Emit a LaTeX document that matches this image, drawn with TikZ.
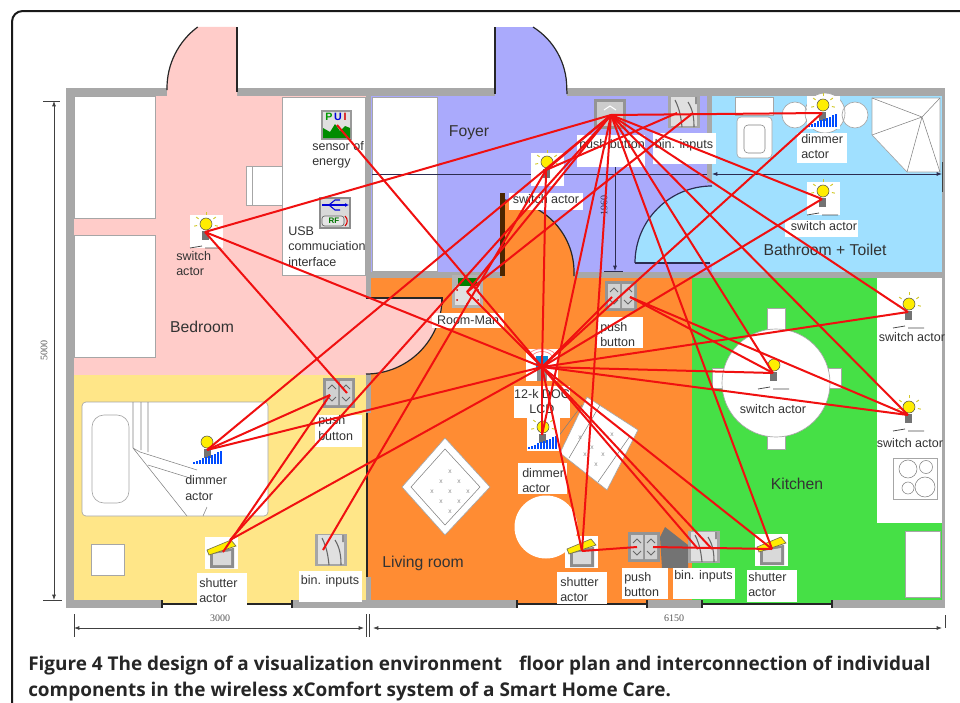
\documentclass[tikz,border=0pt]{standalone}
\usepackage{fontspec}
\setmainfont{Liberation Sans}
\newfontfamily\capfont{Open Sans}
\newfontfamily\dimfont{Liberation Serif}
\usetikzlibrary{arrows.meta,calc}

\definecolor{roompink}{HTML}{FFCCC9}
\definecolor{roomyellow}{HTML}{FFE688}
\definecolor{roomlilac}{HTML}{AAAAFC}
\definecolor{roomsky}{HTML}{A0E0FF}
\definecolor{roomorange}{HTML}{FF8C33}
\definecolor{roomgreen}{HTML}{46E046}
\definecolor{wallgray}{HTML}{A8A8A8}
\definecolor{inkgray}{HTML}{333333}
\definecolor{wirered}{HTML}{F01010}
\definecolor{dimblue}{HTML}{2C2C50}

\tikzset{
    wall/.style={fill=wallgray},
    furn/.style={fill=white, draw=black!35, line width=0.5pt},
    thin line/.style={draw=black!50, line width=0.4pt},
    doorleaf/.style={draw=black!85, line width=0.9pt},
    dimline/.style={draw=black!75, line width=0.6pt},
    dimarrow/.style={dimline, {Latex[length=4pt,width=3pt]}-{Latex[length=4pt,width=3pt]}},
    wire/.style={draw=wirered, line width=1.5pt},
    ptext/.style={inner sep=0pt, text=inkgray, font=\fontsize{9.4}{11.4}\selectfont, align=left},
    room/.style={inner sep=0pt, text=inkgray, font=\fontsize{11.8}{14}\selectfont},
    dimtext/.style={inner sep=0pt, text=black!65, font=\dimfont\fontsize{7.5}{9}\selectfont},
    captext/.style={inner sep=0pt, anchor=base west, text=black!85, font=\capfont\bfseries\fontsize{14.2}{19}\selectfont},
    iconbox/.style={fill=white},
    bulb/.pic={
        \fill[iconbox] (-15,-17) rectangle (18,16);
        \foreach \a in {170,215,270,325,10} \draw[yellow!80!black, line width=0.7pt]
            ($(1,-8)+(\a:9)$) -- ($(1,-8)+(\a:12)$);
        \fill[black!55] (-3,-1) rectangle (4,8);
        \draw[fill=yellow!95!orange, draw=black!70, line width=0.4pt] (1,-8) circle[radius=6];
    },
    switchbase/.pic={
        \draw[black!70, line width=0.6pt] (-15,16) -- (-3,14) (0,16) -- (16,16);
    },
    bars/.pic={
        \foreach \i in {0,...,9}
            \fill[blue!70!cyan] (-14+3*\i,14) rectangle ++(2,-2-1.2*\i);
    },
    shutter/.pic={
        \fill[iconbox] (-17,-15) rectangle (16,17);
        \fill[black!45] (-12,-1) -- (12,-4) -- (12,16) -- (-12,16) -- cycle;
        \fill[black!15] (-9,2) -- (9,-1) -- (9,13) -- (-9,13) -- cycle;
        \draw[fill=yellow!95!orange, draw=black!60!yellow, line width=0.5pt]
            (-15,-2) -- (9,-12) -- (14,-6) -- (-13,3) -- cycle;
    },
    btnone/.pic={
        \fill[black!42] (-16,-15) rectangle (16,15);
        \fill[black!20] (-13,-12) rectangle (13,12);
        \draw[white, line width=0.8pt] (-6,-4) -- (0,-8) -- (6,-4);
    },
    btntwo/.pic={
        \fill[black!42] (-16,-15) rectangle (16,15);
        \fill[black!18] (-13,-12) rectangle (-1,12) (1,-12) rectangle (13,12);
        \foreach \x in {-7,7} \draw[black!60, line width=0.6pt]
            (\x-4,-4) -- (\x,-8) -- (\x+4,-4) (\x-4,4) -- (\x,8) -- (\x+4,4);
    },
    bininput/.pic={
        \fill[black!35] (-16,-16) rectangle (16,16);
        \fill[black!12] (-13,-15) rectangle (13,14);
        \draw[black!60, line width=0.8pt] (-9,-12) .. controls (-4,-2) and (-3,6) .. (-2,15)
            (4,-10) .. controls (9,-2) and (10,6) .. (10,15) (12,-15) -- (12,-8);
    },
}

\begin{document}
\begin{tikzpicture}[x=0.75pt, y=-0.75pt]
    \useasboundingbox (0,0) rectangle (960,703);
    \clip (0,0) rectangle (960,703);

    % card
    \fill[white] (0,0) rectangle (960,703);
    \draw[black!90, line width=1.5pt, rounded corners=8pt] (12,740) -- (12,11) -- (1000,11);

    % walls and rooms
    \fill[wall] (66,88) rectangle (945,608);
    \fill[roompink] (74,96) rectangle (366,375);
    \fill[roomyellow] (74,375) rectangle (366,600);
    \fill[wall] (366,96) rectangle (371,608);
    \fill[roomlilac] (371,96) rectangle (712,272);
    \fill[wall] (707,96) rectangle (712,183);
    \fill[roomsky] (712,96) rectangle (942,272);
    \fill[wall] (366,272) rectangle (942,278);
    \fill[roomorange] (371,278) rectangle (692,600);
    \fill[roomgreen] (692,278) rectangle (942,600);
    \fill[white] (877,278) rectangle (942,523);

    % doors
    \fill[roompink] (237,96) -- (167,96) -- (167,88) arc[start angle=180, end angle=233.4, radius=76] -- (237,27) -- cycle;
    \draw[doorleaf] (167,90) -- (167,88) arc[start angle=180, end angle=233.4, radius=76];
    \draw[black!85, line width=1.6pt] (237,27) -- (237,92);
    \fill[roomlilac] (495,96) -- (495,27) -- (533,27) arc[start angle=-57.9, end angle=0, radius=72] -- (567,96) -- cycle;
    \draw[doorleaf] (533,27) arc[start angle=-57.9, end angle=0, radius=72] -- (567,94);
    \draw[black!85, line width=1.6pt] (495,27) -- (495,94);
    \fill[roompink] (366,298) -- (442,298) arc[start angle=0, end angle=90, radius=76] -- (366,375) -- cycle;
    \draw[doorleaf] (442,298) arc[start angle=0, end angle=90, radius=76];
    \draw[black!85, line width=2pt] (366,298) -- (442,298) -- (442,305);
    \fill[roomorange] (502,278) -- (502,200) arc[start angle=-90, end angle=0, radius=72] -- (574,278) -- cycle;
    \draw[doorleaf] (502,200) arc[start angle=-90, end angle=0, radius=72] -- (574,276);
    \fill[black!70!orange] (500,193) rectangle (505,276);
    \fill[roomsky] (712,263) -- (635,263) arc[start angle=180, end angle=270, radius=77] -- cycle;
    \draw[draw=dimblue, line width=0.9pt] (635,263) arc[start angle=180, end angle=270, radius=77];
    \draw[dimblue, line width=1.6pt] (635,263) -- (710,263);
    \fill[roomyellow] (366,413) rectangle (368,577);
    \fill[roomorange] (368,413) rectangle (371,577);
    \draw[black!85, line width=0.9pt] (367,413) -- (367,577);

    % windows in the bottom wall
    \foreach \xa/\xb/\shade in {162/292/roomyellow, 517/647/roomorange, 702/832/roomgreen} {
        \fill[\shade] (\xa,600) rectangle (\xb,604);
        \fill[white] (\xa,604) rectangle (\xb,608);
        \draw[black!85, line width=0.9pt] (\xa,604) -- (\xb,604);
        \draw[black!85, line width=2pt] (\xa,600) -- (\xa,608) (\xb,600) -- (\xb,608);
    }

    % bedroom furniture
    \draw[furn] (74,96) rectangle (155,218);
    \draw[furn] (74,235) rectangle (155,357);
    \draw[furn] (282,97) rectangle (365,275);
    \draw[furn] (246,166) rectangle (282,205) (252,166) -- (252,205);

    % yellow room furniture
    \draw[furn, rounded corners=3pt] (82,402) rectangle (268,516);
    \draw[furn, rounded corners=9pt] (92,415) rectangle (129,503);
    \draw[furn] (91,544) rectangle (124,575);
    \draw[thin line] (133,402) -- (133,448) -- (140,452) -- (197,470)
        (148,402) -- (148,452) (141,402) -- (141,450)
        (133,448) -- (187,516) (203,516) -- (207,507)
        (148,465) -- (190,478);

    % foyer and bathroom furniture
    \draw[furn] (372,97) rectangle (437,271);
    \draw[furn] (735,97) rectangle (773,115);
    \draw[furn, rounded corners=3pt] (737,117) rectangle (772,158);
    \draw[thin line, rounded corners=3pt] (744,125) rectangle (765,153);
    \draw[furn] (795,115) circle[radius=13] (855,115) circle[radius=13] (825,113) circle[radius=20];
    \draw[furn] (872,98) -- (940,98) -- (940,172) -- (907,172) -- (872,135) -- cycle;
    \draw[thin line] (922,117) -- (872,98) (922,117) -- (940,98) (922,117) -- (940,172)
        (922,117) -- (907,172) (922,117) -- (872,135);

    % kitchen furniture
    \draw[furn] (767,308) rectangle (785,330) (767,432) rectangle (785,449);
    \draw[furn] (712,368) rectangle (725,388) (828,368) rectangle (841,388);
    \draw[furn] (776,383) circle[radius=54];
    \draw[furn] (905,531) rectangle (940,597);
    \draw[furn] (893,458) rectangle (937,499);
    \draw[thin line] (908,469) circle[radius=9] (926,467) circle[radius=6.5]
        (908,488) circle[radius=6] (925,487) circle[radius=10];

    % living room furniture
    \draw[furn] (402,487) -- (445,438) -- (490,487) -- (445,535) -- cycle;
    \draw[thin line] (411,487) -- (445,449) -- (480,487) -- (445,525) -- cycle;
    \foreach \x/\y in {450/472,441/482,459/482,432/492,450/492,468/492,441/502,459/502,450/512}
        \node[inner sep=0pt, text=black!45, font=\fontsize{5}{5}\selectfont] (rug\x\y) at (\x,\y) {x};
    \draw[furn] (587,397) -- (638,430) -- (607,490) -- (560,453) -- cycle;
    \draw[thin line] (582,405) -- (552,445) (600,405) -- (569,458) (630,436) -- (598,482);
    \foreach \x/\y in {590/422,580/438,592/448,603/455,596/465,612/435,585/455}
        \node[inner sep=0pt, text=black!45, font=\fontsize{5}{5}\selectfont] (cushion\x\y) at (\x,\y) {x};
    \fill[white] (546,527) circle[radius=31.5];
    \fill[black!55] (660,537) -- (665,527) -- (688,545) -- (688,568) -- (662,568) -- cycle;

    % dimensions
    \draw[dimarrow] (54,101) -- (54,600);
    \draw[dimline] (43,101) -- (60,101) (43,600) -- (62,600);
    \node[dimtext, rotate=90] (dimfive) at (44,350) {5000};
    \draw[dimarrow] (74,628) -- (364,628);
    \draw[dimarrow] (373,628) -- (942,628);
    \draw[dimline] (74,614) -- (74,637) (366,614) -- (366,637) (369,614) -- (369,637) (945,615) -- (945,628);
    \node[dimtext] (dimthree) at (220,618) {3000};
    \node[dimtext] (dimsix) at (674,618) {6150};
    \draw[dimblue, line width=0.6pt] (372,174) -- (707,174);
    \draw[dimarrow, draw=dimblue] (712,174) -- (942,174);
    \draw[dimline] (942,162) -- (942,192);
    \draw[dimline, dimblue, -{Latex[length=4pt,width=3pt]}] (615,167) -- (615,271);
    \draw[dimline, dimblue] (604,271) -- (623,271);
    \node[dimtext, text=dimblue, rotate=90] (dimfoyer) at (604,205) {1960};

    % wire ends
    \coordinate (pbFoyer) at (611,115);
    \coordinate (biFoyerA) at (677,113);
    \coordinate (biFoyerB) at (693,113);
    \coordinate (dimBath) at (822,113);
    \coordinate (swBath) at (822,199);
    \coordinate (swFoyer) at (546,170);
    \coordinate (swSink) at (908,312);
    \coordinate (swStove) at (908,415);
    \coordinate (swTable) at (773,373);
    \coordinate (lcd) at (542,367);
    \coordinate (roomMan) at (467,292);
    \coordinate (pbMidA) at (612,297);
    \coordinate (pbMidB) at (630,297);
    \coordinate (dimLiving) at (542,435);
    \coordinate (shLiving) at (582,551);
    \coordinate (pbLowA) at (637,547);
    \coordinate (pbLowB) at (653,547);
    \coordinate (biLowA) at (698,549);
    \coordinate (biLowB) at (712,549);
    \coordinate (shKitchen) at (772,549);
    \coordinate (swBed) at (205,232);
    \coordinate (energy) at (337,125);
    \coordinate (pbBedA) at (330,395);
    \coordinate (pbBedB) at (347,393);
    \coordinate (dimBed) at (207,450);
    \coordinate (shBedA) at (223,552);
    \coordinate (shBedB) at (230,540);
    \coordinate (biBed) at (323,550);

    % icons
    \pic at (swBed) {bulb};
    \pic at (swBed) {switchbase};
    \pic at (swFoyer) {bulb};
    \pic at (swBath) {bulb};
    \pic at (swBath) {switchbase};
    \pic at (dimBath) {bulb};
    \pic at (dimBath) {bars};
    \pic at (swSink) {bulb};
    \pic at (swSink) {switchbase};
    \pic at (swStove) {bulb};
    \pic at (swStove) {switchbase};
    \pic at (swTable) {switchbase};
    \fill[black!55] (770,372) rectangle (777,381);
    \draw[fill=yellow!95!orange, draw=black!70, line width=0.4pt] (774,365) circle[radius=6];
    \pic at (dimLiving) {bulb};
    \pic at (dimLiving) {bars};
    \fill[black!55] (204,449) rectangle (211,458);
    \draw[fill=yellow!95!orange, draw=black!70, line width=0.4pt] (207,442) circle[radius=6];
    \pic at (dimBed) {bars};
    \pic at (shLiving) {shutter};
    \pic at (shKitchen) {shutter};
    \pic at (222,552) {shutter};
    \pic at (610,114) {btnone};
    \pic at (644,547) {btntwo};
    \pic at (621,296) {btntwo};
    \pic at (339,393) {btntwo};
    \pic at (684,112) {bininput};
    \pic at (704,547) {bininput};
    \pic at (331,550) {bininput};

    % energy sensor icon
    \fill[black!40] (321,110) rectangle (352,140);
    \fill[black!12] (323,112) rectangle (350,138);
    \fill[green!55!black] (323,138) -- (323,128) -- (330,132) -- (335,124) -- (340,131) -- (345,126) -- (350,128) -- (350,138) -- cycle;
    \node[inner sep=0pt, font=\bfseries\fontsize{8}{8}\selectfont] (pui) at (336,117)
        {\textcolor{green!60!black}{P}\,\textcolor{blue!85!black}{U}\,\textcolor{red!85!black}{I}};

    % usb icon
    \fill[black!45] (319,197) rectangle (351,229);
    \fill[black!15] (321,199) rectangle (349,227);
    \draw[blue!85!black, line width=1pt, -{Latex[length=3pt,width=3pt]}] (322,205) -- (349,205);
    \draw[blue!85!black, line width=0.8pt] (329,205) -- (335,200) -- (340,200) (329,205) -- (335,210) -- (340,210);
    \draw[black!60, fill=black!10, line width=0.5pt, rounded corners=2pt] (322,216) rectangle (344,226);
    \node[inner sep=0pt, text=green!45!black, font=\bfseries\fontsize{6}{6}\selectfont] (usbrf) at (334,221) {RF};
    \draw[red!85!black, line width=0.8pt] (345,216) .. controls (348,219) and (348,223) .. (345,226);

    % room manager icon
    \fill[black!30] (452,275) rectangle (483,308);
    \fill[black!12] (455,286) rectangle (480,305);
    \fill[green!50!black] (458,278) rectangle (477,286);
    \foreach \x/\y in {457/290,478/290,457/300,478/300,467/304}
        \fill[red!75!black] (\x,\y) circle[radius=1];

    % display icon
    \fill[iconbox] (526,349) rectangle (558,381);
    \fill[cyan!70!blue] (536,356) rectangle (548,368);
    \fill[black!45] (537,369) rectangle (547,381);
    \draw[red!45, line width=0.6pt] (532,356) .. controls (536,350) and (548,350) .. (552,356)
        (529,354) .. controls (534,347) and (550,347) .. (555,354);

    % white backs of the labels
    \foreach \xa/\ya/\xb/\yb in {577/135/645/167, 653/133/716/164, 797/133/847/163,
            509/193/583/210, 785/220/858/237, 432/313/504/328, 597/317/643/348,
            514/386/570/418, 518/463/567/494, 557/572/607/604, 622/568/668/599,
            673/568/735/599, 747/570/797/602, 315/415/362/447, 197/573/247/605,
            299/571/362/602}
        \fill[white] (\xa,\ya) rectangle (\xb,\yb);

    % labels
    \node[ptext] (tPbFoyer) at (612,145) {push button};
    \node[ptext] (tBiFoyer) at (684,145) {bin. inputs};
    \node[ptext, anchor=west] (tDimBath) at (801,146.5) {dimmer\\actor};
    \node[ptext] (tSwFoyer) at (546,199) {switch actor};
    \node[ptext] (tSwBath) at (824,226) {switch actor};
    \node[ptext] (tRoom) at (468,320) {Room-Man};
    \node[ptext, anchor=west] (tPbMid) at (600,334.5) {push\\button};
    \node[ptext, align=center] (tLcd) at (542,401.5) {12-k DOC\\LCD};
    \node[ptext, anchor=west] (tDimLiving) at (522,480.5) {dimmer\\actor};
    \node[ptext, anchor=west] (tShLiving) at (560,589.5) {shutter\\actor};
    \node[ptext, anchor=west] (tPbLow) at (624,584.5) {push\\button};
    \node[ptext, anchor=west] (tBiLow) at (674,576) {bin. inputs};
    \node[ptext, anchor=west] (tShKitchen) at (748,584.5) {shutter\\actor};
    \node[ptext, anchor=west] (tPbBed) at (318,428) {push\\button};
    \node[ptext, anchor=west] (tShBed) at (199,590.5) {shutter\\actor};
    \node[ptext] (tBiBed) at (330,581) {bin. inputs};
    \node[ptext, anchor=west] (tEnergy) at (312,155) {sensor of\\energy};
    \node[ptext, anchor=west] (tUsb) at (288,246.5) {USB\\commuciation\\interface};
    \node[ptext, anchor=west] (tSwBed) at (176,263.5) {switch\\actor};
    \node[ptext, anchor=west] (tDimBed) at (185,488) {dimmer\\actor};
    \node[ptext] (tSwSink) at (912,337) {switch actor};
    \node[ptext] (tSwStove) at (910,443) {switch actor};
    \node[ptext] (tSwTable) at (773,409) {switch actor};

    % room names
    \node[room] (foyer) at (469,133) {Foyer};
    \node[room] (bedroom) at (202,327) {Bedroom};
    \node[room] (bathroom) at (825,250) {Bathroom + Toilet};
    \node[room] (kitchen) at (797,484) {Kitchen};
    \node[room] (living) at (423,563) {Living room};

    % radio links
    \path[wire]
        (pbFoyer) edge (swBed) edge (swFoyer) edge (roomMan) edge (dimBed) edge (shBedB)
                  edge (dimLiving) edge (shLiving) edge (shKitchen) edge (swTable)
                  edge (swStove) edge (swSink) edge (swBath) edge (dimBath)
        (lcd) edge (swBed) edge (energy) edge (roomMan) edge (swFoyer) edge (pbMidA)
              edge (swBath) edge (dimBath) edge (swSink) edge (swTable) edge (swStove)
              edge (shKitchen) edge (biLowA) edge (biLowB) edge (shLiving) edge (dimLiving)
              edge (dimBed) edge (shBedB)
        (biFoyerA) edge (swFoyer)
        (biFoyerB) edge (roomMan)
        (pbMidB) edge (swTable) edge (swStove)
        (swFoyer) edge (biBed)
        (pbBedA) edge (dimBed) edge (shBedA)
        (pbBedB) edge (swBed)
        (shLiving) edge (pbLowA)
        (pbLowB) edge (shKitchen);

    % caption
    \node[captext] (capone) at (28,670)
        {Figure 4 The design of a visualization environment\hspace{0.9em}floor plan and interconnection of individual};
    \node[captext] (captwo) at (28,696)
        {components in the wireless xComfort system of a Smart Home Care.};
\end{tikzpicture}
\end{document}
